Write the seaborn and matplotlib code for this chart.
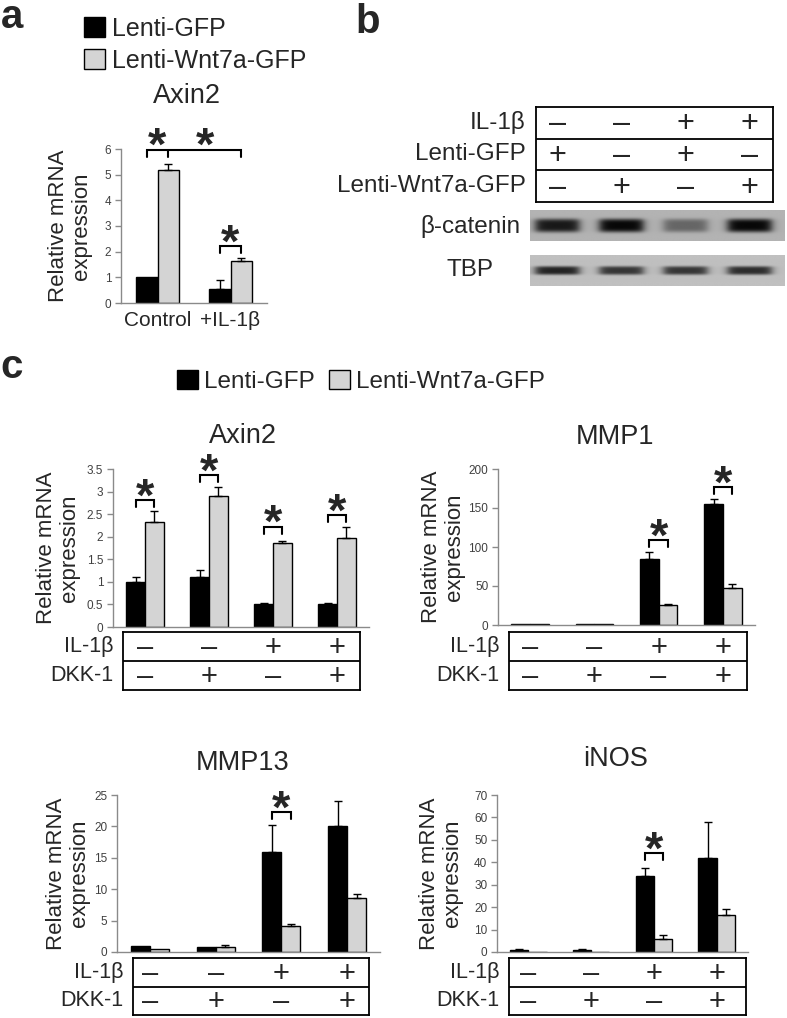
import numpy as np
import pandas as pd
import matplotlib
matplotlib.use("Agg")
import matplotlib.pyplot as plt
import matplotlib.transforms as mtransforms
from matplotlib.patches import Patch
import seaborn as sns

# ---------------- data ----------------
LAB_GFP = "Lenti-GFP"
LAB_WNT = "Lenti-Wnt7a-GFP"

# panel a : Axin2
a_groups = ["Control", "+IL-1β"]
a_gfp = [1.0, 0.55]
a_gfp_err = [0.0, 0.35]
a_wnt = [5.2, 1.65]
a_wnt_err = [0.2, 0.1]

# panel b : western blot
b_labels = ["IL-1β", "Lenti-GFP", "Lenti-Wnt7a-GFP"]
b_signs = [["–", "–", "+", "+"],
           ["+", "–", "+", "–"],
           ["–", "+", "–", "+"]]
b_catenin = [0.9, 1.0, 0.45, 1.05]
b_tbp = [0.85, 0.75, 0.75, 0.8]

# panel c
c_groups = ["g1", "g2", "g3", "g4"]
c_labels = ["IL-1β", "DKK-1"]
c_il1b = ["–", "–", "+", "+"]
c_dkk1 = ["–", "+", "–", "+"]

axin2_gfp = [1.0, 1.1, 0.5, 0.5]
axin2_gfp_err = [0.1, 0.17, 0.03, 0.03]
axin2_wnt = [2.32, 2.9, 1.87, 1.97]
axin2_wnt_err = [0.24, 0.2, 0.03, 0.24]
axin2_sig = [(0, 2.81), (1, 3.37), (2, 2.22), (3, 2.48)]

mmp1_gfp = [1.0, 1.0, 85.0, 155.0]
mmp1_gfp_err = [0.0, 0.0, 9.0, 7.0]
mmp1_wnt = [0.8, 0.8, 26.0, 47.0]
mmp1_wnt_err = [0.0, 0.0, 1.5, 6.0]
mmp1_sig = [(2, 109), (3, 177)]

mmp13_gfp = [1.0, 0.75, 16.0, 20.0]
mmp13_gfp_err = [0.0, 0.0, 4.2, 4.0]
mmp13_wnt = [0.55, 0.8, 4.2, 8.6]
mmp13_wnt_err = [0.0, 0.25, 0.25, 0.7]
mmp13_sig = [(2, 22.3)]

inos_gfp = [0.8, 0.8, 34.0, 42.0]
inos_gfp_err = [0.5, 0.5, 3.5, 16.0]
inos_wnt = [0.2, 0.2, 6.0, 16.5]
inos_wnt_err = [0.0, 0.0, 1.5, 2.8]
inos_sig = [(2, 44)]

BLACK = "#000000"
GRAY = "#d4d4d4"
AXGRAY = "#8a8a8a"

sns.set_style("white")
plt.rcParams["font.family"] = ["Liberation Sans", "DejaVu Sans"]

W, H = 787, 1018
fig = plt.figure(figsize=(W / 100, H / 100), dpi=100)


def px_axes(l, t, r, b):
    return fig.add_axes([l / W, 1 - b / H, (r - l) / W, (b - t) / H])


def fig_text(x, y, s, **kw):
    fig.text(x / W, 1 - y / H, s, **kw)


def bracket(ax, xs, y, h):
    ax.plot([xs[0], xs[0], xs[-1], xs[-1]], [y - h, y, y, y - h],
            color="black", lw=1.5, clip_on=False, solid_joinstyle="miter")
    for xm in xs[1:-1]:
        ax.plot([xm, xm], [y, y - h], color="black", lw=1.5, clip_on=False)


def star(ax, x, y):
    ax.annotate("*", xy=(x, y), xytext=(0, -7.5), textcoords="offset points",
                ha="center", va="baseline", fontsize=34, fontweight="bold",
                annotation_clip=False)


def bar_panel(box, groups, gfp, gfp_err, wnt, wnt_err, ymax, ystep, label_dx):
    l, t, r, b = box
    ax = px_axes(l, t, r, b)
    n = len(groups)
    df = pd.DataFrame({"group": groups * 2,
                       "vector": [LAB_GFP] * n + [LAB_WNT] * n,
                       "value": gfp + wnt})
    sns.barplot(data=df, x="group", y="value", hue="vector", order=groups,
                hue_order=[LAB_GFP, LAB_WNT], palette=[BLACK, GRAY],
                width=0.58, gap=0, edgecolor="black", linewidth=1,
                errorbar=None, legend=False, ax=ax)
    bars = sorted(ax.patches, key=lambda p: p.get_x())
    xs = np.array([p.get_x() + p.get_width() / 2 for p in bars])
    x_gfp, x_wnt = xs[0::2], xs[1::2]
    for xpos, vals, errs in ((x_gfp, gfp, gfp_err), (x_wnt, wnt, wnt_err)):
        vals = np.asarray(vals)
        errs = np.asarray(errs)
        m = errs > 0
        if m.any():
            ax.errorbar(xpos[m], vals[m], yerr=[np.zeros(m.sum()), errs[m]],
                        fmt="none", ecolor="black", elinewidth=1, capsize=3.2,
                        capthick=1, zorder=3)
    ax.set_xlim(-0.5, n - 0.5)
    ax.set_ylim(0, ymax)
    ax.set_yticks(np.arange(0, ymax + ystep / 2, ystep))
    ax.yaxis.set_major_formatter(lambda v, p: f"{v:g}")
    ax.set_xlabel("")
    ax.set_ylabel("")
    sns.despine(ax=ax)
    for s in ("left", "bottom"):
        ax.spines[s].set_color(AXGRAY)
        ax.spines[s].set_linewidth(1)
    ax.tick_params(axis="y", left=True, length=4, width=1, color=AXGRAY,
                   labelsize=8.5, labelcolor="#404040", pad=3)
    ax.tick_params(axis="x", bottom=False, length=0)
    ax.text(label_dx / (r - l), 0.5, "Relative mRNA\nexpression",
            transform=ax.transAxes, rotation=90, ha="center", va="center",
            fontsize=16, linespacing=1.1)
    unit_h = ymax * 7 / (b - t)
    return ax, x_gfp, x_wnt, unit_h


def sign_table(box, ref_box, n_groups, labels, rows, fontsize, signsize):
    l, t, r, b = box
    rl, _, rr, _ = ref_box
    tax = px_axes(l, t, r, b)
    unit = (rr - rl) / n_groups
    tax.set_xlim((l - rl) / unit - 0.5, (r - rl) / unit - 0.5)
    tax.set_ylim(len(rows), 0)
    tax.set_xticks([])
    tax.set_yticks([])
    for s in tax.spines.values():
        s.set_visible(True)
        s.set_color("black")
        s.set_linewidth(1.3)
    for k in range(1, len(rows)):
        tax.axhline(k, color="black", lw=1.3)
    trans = mtransforms.blended_transform_factory(tax.transAxes, tax.transData)
    for i, (lab, signs) in enumerate(zip(labels, rows)):
        tax.text(-10 / (r - l), i + 0.5, lab, transform=trans, ha="right",
                 va="center", fontsize=fontsize)
        for j, sgn in enumerate(signs):
            tax.text(j, i + 0.55, sgn, ha="center", va="center",
                     fontsize=signsize, fontweight="light")
    return tax


def blot(box, ref_box, n_lanes, bands, bg, thick):
    l, t, r, b = box
    rl, _, rr, _ = ref_box
    bax = px_axes(l, t, r, b)
    unit = (rr - rl) / n_lanes
    x0, x1 = (l - rl) / unit - 0.5, (r - rl) / unit - 0.5
    xx = np.linspace(x0, x1, 400)
    yy = np.linspace(0, 1, 60)
    X, Y = np.meshgrid(xx, yy)
    img = np.full(X.shape, bg)
    for k, inten in enumerate(bands):
        prof_x = 1 / (1 + np.exp((np.abs(X - k) - 0.34) / 0.04))
        prof_y = np.exp(-(((Y - 0.5) / thick) ** 4))
        img = img - (bg - 0.03) * min(inten, 1.0) * prof_x * prof_y
    bax.imshow(img, cmap="gray", vmin=0, vmax=1, extent=(x0, x1, 0, 1),
               aspect="auto", interpolation="bilinear")
    bax.set_axis_off()


# ---------------- panel a ----------------
fig_text(1, 28, "a", fontsize=29, fontweight="bold", va="baseline")
box_a = (121, 149, 267, 303)
ax, xg, xw, h = bar_panel(box_a, a_groups, a_gfp, a_gfp_err, a_wnt, a_wnt_err,
                          6, 1, -51)
ax.tick_params(axis="x", labelsize=15, pad=6)
fig_text(187, 103, "Axin2", fontsize=19.5, ha="center", va="baseline")
bracket(ax, [xg[0], xw[0], xw[1]], 5.97, h)
star(ax, (xg[0] + xw[0]) / 2, 5.97)
star(ax, (xw[0] + xw[1]) / 2, 5.97)
bracket(ax, [xg[1], xw[1]], 2.22, h)
star(ax, (xg[1] + xw[1]) / 2, 2.22)

fig.legend(handles=[Patch(facecolor=BLACK, edgecolor="black"),
                    Patch(facecolor=GRAY, edgecolor="black")],
           labels=[LAB_GFP, LAB_WNT], loc="upper left",
           bbox_to_anchor=(84 / W, 1 - 17 / H), frameon=False, fontsize=18,
           handlelength=0.85, handleheight=0.85, handletextpad=0.25,
           labelspacing=0.3, borderpad=0, borderaxespad=0)

# ---------------- panel b ----------------
fig_text(355, 33, "b", fontsize=29, fontweight="bold", va="baseline")
ref_b = (525, 0, 782, 0)
sign_table((536, 107, 773, 202), ref_b, 4, b_labels, b_signs, 17.5, 22)
blot((530, 210, 785, 241), ref_b, 4, b_catenin, 0.70, 0.22)
blot((530, 255, 785, 286), ref_b, 4, b_tbp, 0.75, 0.14)
fig_text(470, 227, "β-catenin", fontsize=17.5, ha="center", va="center")
fig_text(470, 270, "TBP", fontsize=17.5, ha="center", va="center")

# ---------------- panel c ----------------
fig_text(0, 378, "c", fontsize=29, fontweight="bold", va="baseline")
fig.legend(handles=[Patch(facecolor=BLACK, edgecolor="black"),
                    Patch(facecolor=GRAY, edgecolor="black")],
           labels=[LAB_GFP, LAB_WNT], loc="upper left", ncol=2,
           bbox_to_anchor=(177 / W, 1 - 370 / H), frameon=False, fontsize=17.5,
           handlelength=0.85, handleheight=0.85, handletextpad=0.25,
           columnspacing=0.6, borderpad=0, borderaxespad=0)

c_rows = [c_il1b, c_dkk1]
panels = [
    ("Axin2", (113, 469, 369, 627), (123, 632, 360, 690), (243, 443), -55,
     axin2_gfp, axin2_gfp_err, axin2_wnt, axin2_wnt_err, 3.5, 0.5, axin2_sig),
    ("MMP1", (498, 469, 755, 625), (509, 632, 747, 690), (615, 444), -55,
     mmp1_gfp, mmp1_gfp_err, mmp1_wnt, mmp1_wnt_err, 200, 50, mmp1_sig),
    ("MMP13", (117, 795, 380, 952), (133, 958, 369, 1015), (243, 770), -49,
     mmp13_gfp, mmp13_gfp_err, mmp13_wnt, mmp13_wnt_err, 25, 5, mmp13_sig),
    ("iNOS", (497, 795, 748, 952), (509, 958, 746, 1015), (616, 766), -56,
     inos_gfp, inos_gfp_err, inos_wnt, inos_wnt_err, 70, 10, inos_sig),
]
for (title, box, tbox, txy, ldx, g, ge, w, we, ymax, ystep, sig) in panels:
    ax, xg, xw, h = bar_panel(box, c_groups, g, ge, w, we, ymax, ystep, ldx)
    ax.set_xticklabels([])
    fig_text(txy[0], txy[1], title, fontsize=19.5, ha="center", va="baseline")
    for gi, yv in sig:
        bracket(ax, [xg[gi], xw[gi]], yv, h)
        star(ax, (xg[gi] + xw[gi]) / 2, yv)
    sign_table(tbox, box, 4, c_labels, c_rows, 15.5, 21)

fig.savefig("out.png", dpi=100)
